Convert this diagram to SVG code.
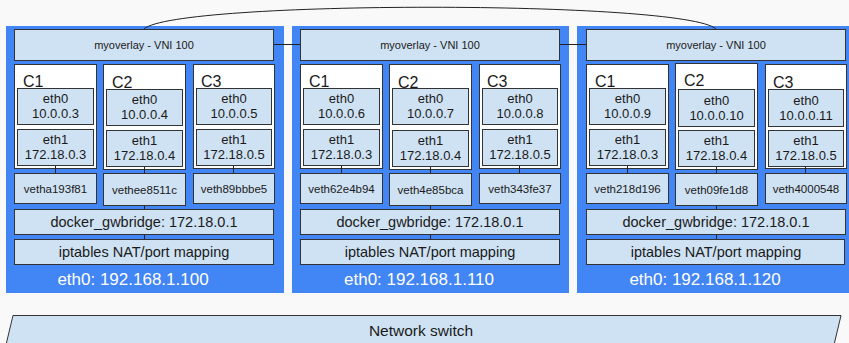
<svg xmlns="http://www.w3.org/2000/svg" width="849" height="343" viewBox="0 0 849 343">
<style>
.bg{fill:#f9f9f9}
.host{fill:#4285f4}
.box{fill:#cfe2f3;stroke:#333;stroke-width:1}
.ctr{fill:#fff;stroke:#333;stroke-width:1}
.t{font-family:"Liberation Sans",Arial,sans-serif;fill:#1a1a1a;text-anchor:middle}
.cl{font-family:"Liberation Sans",Arial,sans-serif;fill:#1a1a1a;font-size:16px}
.f11{font-size:11px}
.f13{font-size:13px}
.f12{font-size:11.5px}
.f14{font-size:14.5px}
.hl{font-family:"Liberation Sans",Arial,sans-serif;fill:#fff;font-size:17px;text-anchor:middle}
.conn{stroke:#222;stroke-width:1;fill:none}
</style>
<rect class="bg" x="0" y="0" width="849" height="343"/>

<!-- Host 1 -->
<g id="host1">
<rect class="host" x="6" y="26" width="278" height="267"/>
<text class="hl" x="133" y="285">eth0: 192.168.1.100</text>
</g>
<g id="host1-overlay"><rect class="box" x="14.5" y="29.5" width="259" height="31"/><text class="t f11" x="144" y="49">myoverlay - VNI 100</text></g>
<g id="host1-c1"><rect class="ctr" x="14.5" y="64.5" width="82" height="104"/><text class="cl" x="23" y="87">C1</text>
<rect class="box" x="17.5" y="88.5" width="76" height="36"/><text class="t f13" x="55.5" y="103">eth0</text><text class="t f13" x="55.5" y="118">10.0.0.3</text>
<rect class="box" x="17.5" y="129.5" width="76" height="36"/><text class="t f13" x="55.5" y="144">eth1</text><text class="t f13" x="55.5" y="159">172.18.0.3</text></g>
<g id="host1-c2"><rect class="ctr" x="103.5" y="64.5" width="82" height="105"/><text class="cl" x="112" y="88">C2</text>
<rect class="box" x="106.5" y="89.5" width="76" height="36"/><text class="t f13" x="144.5" y="104">eth0</text><text class="t f13" x="144.5" y="119">10.0.0.4</text>
<rect class="box" x="106.5" y="130.5" width="76" height="36"/><text class="t f13" x="144.5" y="145">eth1</text><text class="t f13" x="144.5" y="160">172.18.0.4</text></g>
<g id="host1-c3"><rect class="ctr" x="193.5" y="64.5" width="81" height="104"/><text class="cl" x="201" y="87">C3</text>
<rect class="box" x="196.5" y="88.5" width="75" height="36"/><text class="t f13" x="234" y="103">eth0</text><text class="t f13" x="234" y="118">10.0.0.5</text>
<rect class="box" x="196.5" y="129.5" width="75" height="36"/><text class="t f13" x="234" y="144">eth1</text><text class="t f13" x="234" y="159">172.18.0.5</text></g>
<g id="host1-veth1"><rect class="box" x="14.5" y="173.5" width="82" height="30"/><text class="t f12" x="55.5" y="193">vetha193f81</text></g>
<g id="host1-veth2"><rect class="box" x="103.5" y="173.5" width="82" height="32"/><text class="t f12" x="144.5" y="194">vethee8511c</text></g>
<g id="host1-veth3"><rect class="box" x="193.5" y="173.5" width="81" height="30"/><text class="t f12" x="234" y="193">veth89bbbe5</text></g>
<g id="host1-bridge"><rect class="box" x="14.5" y="209.5" width="259" height="25"/><text class="t f14" x="144" y="227">docker_gwbridge: 172.18.0.1</text></g>
<g id="host1-iptables"><rect class="box" x="14.5" y="239.5" width="259" height="25"/><text class="t f14" x="144" y="257">iptables NAT/port mapping</text></g>

<!-- Host 2 -->
<g id="host2">
<rect class="host" x="292" y="26" width="277" height="267"/>
<text class="hl" x="419" y="285">eth0: 192.168.1.110</text>
</g>
<g id="host2-overlay"><rect class="box" x="300.5" y="29.5" width="259" height="31"/><text class="t f11" x="430" y="49">myoverlay - VNI 100</text></g>
<g id="host2-c1"><rect class="ctr" x="300.5" y="64.5" width="82" height="104"/><text class="cl" x="309" y="87">C1</text>
<rect class="box" x="303.5" y="88.5" width="76" height="36"/><text class="t f13" x="341.5" y="103">eth0</text><text class="t f13" x="341.5" y="118">10.0.0.6</text>
<rect class="box" x="303.5" y="129.5" width="76" height="36"/><text class="t f13" x="341.5" y="144">eth1</text><text class="t f13" x="341.5" y="159">172.18.0.3</text></g>
<g id="host2-c2"><rect class="ctr" x="389.5" y="64.5" width="82" height="105"/><text class="cl" x="398" y="88">C2</text>
<rect class="box" x="392.5" y="88.5" width="76" height="36"/><text class="t f13" x="430.5" y="103">eth0</text><text class="t f13" x="430.5" y="118">10.0.0.7</text>
<rect class="box" x="392.5" y="130.5" width="76" height="36"/><text class="t f13" x="430.5" y="145">eth1</text><text class="t f13" x="430.5" y="160">172.18.0.4</text></g>
<g id="host2-c3"><rect class="ctr" x="479.5" y="64.5" width="81" height="104"/><text class="cl" x="487" y="87">C3</text>
<rect class="box" x="482.5" y="88.5" width="75" height="36"/><text class="t f13" x="520" y="103">eth0</text><text class="t f13" x="520" y="118">10.0.0.8</text>
<rect class="box" x="482.5" y="129.5" width="75" height="36"/><text class="t f13" x="520" y="144">eth1</text><text class="t f13" x="520" y="159">172.18.0.5</text></g>
<g id="host2-veth1"><rect class="box" x="300.5" y="173.5" width="82" height="30"/><text class="t f12" x="341.5" y="193">veth62e4b94</text></g>
<g id="host2-veth2"><rect class="box" x="389.5" y="173.5" width="82" height="32"/><text class="t f12" x="430.5" y="194">veth4e85bca</text></g>
<g id="host2-veth3"><rect class="box" x="479.5" y="173.5" width="81" height="30"/><text class="t f12" x="520" y="193">veth343fe37</text></g>
<g id="host2-bridge"><rect class="box" x="300.5" y="209.5" width="259" height="25"/><text class="t f14" x="430" y="227">docker_gwbridge: 172.18.0.1</text></g>
<g id="host2-iptables"><rect class="box" x="300.5" y="239.5" width="259" height="25"/><text class="t f14" x="430" y="257">iptables NAT/port mapping</text></g>

<!-- Host 3 -->
<g id="host3">
<rect class="host" x="577" y="26" width="280" height="267"/>
<text class="hl" x="705" y="285">eth0: 192.168.1.120</text>
</g>
<g id="host3-overlay"><rect class="box" x="586.5" y="29.5" width="259" height="31"/><text class="t f11" x="716" y="49">myoverlay - VNI 100</text></g>
<g id="host3-c1"><rect class="ctr" x="586.5" y="64.5" width="82" height="104"/><text class="cl" x="595" y="87">C1</text>
<rect class="box" x="589.5" y="88.5" width="76" height="36"/><text class="t f13" x="627.5" y="103">eth0</text><text class="t f13" x="627.5" y="118">10.0.0.9</text>
<rect class="box" x="589.5" y="129.5" width="76" height="36"/><text class="t f13" x="627.5" y="144">eth1</text><text class="t f13" x="627.5" y="159">172.18.0.3</text></g>
<g id="host3-c2"><rect class="ctr" x="675.5" y="63.5" width="82" height="106"/><text class="cl" x="684" y="86">C2</text>
<rect class="box" x="678.5" y="89.5" width="76" height="37"/><text class="t f13" x="716.5" y="105">eth0</text><text class="t f13" x="716.5" y="120">10.0.0.10</text>
<rect class="box" x="678.5" y="130.5" width="76" height="36"/><text class="t f13" x="716.5" y="145">eth1</text><text class="t f13" x="716.5" y="160">172.18.0.4</text></g>
<g id="host3-c3"><rect class="ctr" x="765.5" y="64.5" width="81" height="104"/><text class="cl" x="773" y="88">C3</text>
<rect class="box" x="768.5" y="89.5" width="75" height="37"/><text class="t f13" x="806" y="105">eth0</text><text class="t f13" x="806" y="120">10.0.0.11</text>
<rect class="box" x="768.5" y="130.5" width="75" height="36"/><text class="t f13" x="806" y="145">eth1</text><text class="t f13" x="806" y="160">172.18.0.5</text></g>
<g id="host3-veth1"><rect class="box" x="586.5" y="173.5" width="82" height="30"/><text class="t f12" x="627.5" y="193">veth218d196</text></g>
<g id="host3-veth2"><rect class="box" x="675.5" y="173.5" width="82" height="32"/><text class="t f12" x="716.5" y="194">veth09fe1d8</text></g>
<g id="host3-veth3"><rect class="box" x="765.5" y="173.5" width="81" height="30"/><text class="t f12" x="806" y="193">veth4000548</text></g>
<g id="host3-bridge"><rect class="box" x="586.5" y="209.5" width="259" height="25"/><text class="t f14" x="716" y="227">docker_gwbridge: 172.18.0.1</text></g>
<g id="host3-iptables"><rect class="box" x="586.5" y="239.5" width="258" height="25"/><text class="t f14" x="716" y="257">iptables NAT/port mapping</text></g>

<!-- Network switch -->
<g id="switch">
<polygon class="box" points="13,315.5 841,315.5 833,349 5,349"/>
<text class="t" style="font-size:15.5px" x="421" y="336">Network switch</text>
</g>

<!-- Connectors -->
<g id="connectors" class="conn">
<path d="M144,29 C175,0 685,0 716,29"/>
<path d="M274,44.5 H300"/>
<path d="M560,44.5 H586"/>
<path d="M55.5,166 V173 M144.5,167 V173 M233.5,166 V173 M144.5,206 V209 M144.5,235 V239"/>
<path d="M341.5,166 V173 M430.5,167 V173 M519.5,166 V173 M430.5,206 V209 M430.5,235 V239"/>
<path d="M627.5,166 V173 M716.5,167 V173 M805.5,166 V173 M716.5,206 V209 M716.5,235 V239"/>
</g>
</svg>
